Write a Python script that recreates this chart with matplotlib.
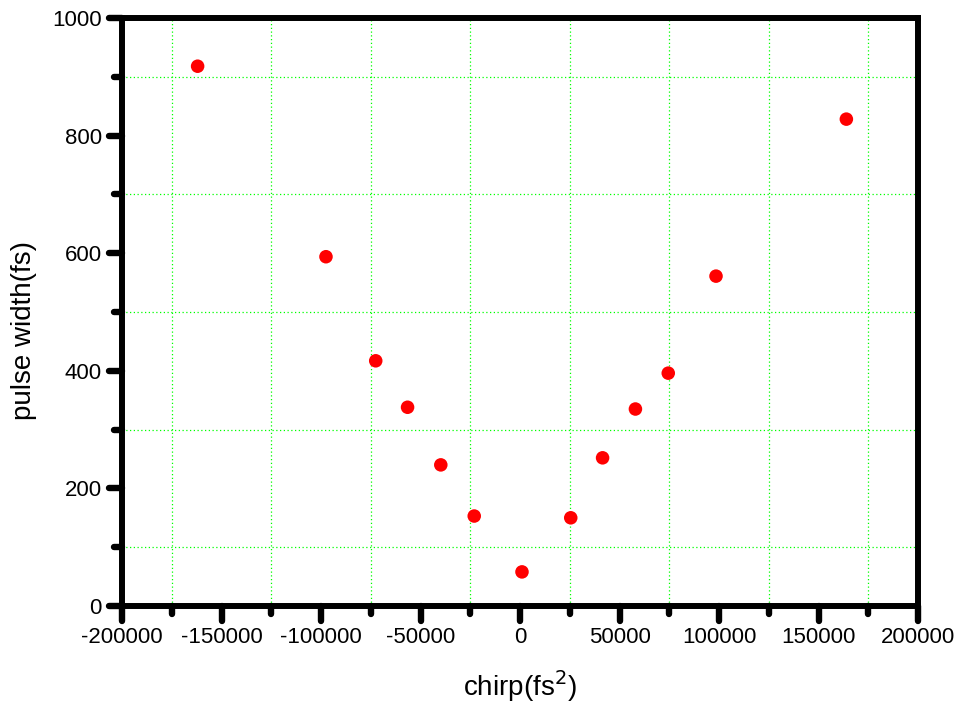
import matplotlib
matplotlib.use("Agg")
import matplotlib.pyplot as plt
from matplotlib.ticker import MultipleLocator
from matplotlib.markers import MarkerStyle, TICKDOWN, TICKLEFT

plt.rcParams['font.family'] = ['Liberation Sans', 'DejaVu Sans']

# Measured pulse width versus applied chirp
chirp = [-162000, -97500, -72500, -56500, -39800, -23000, 1000,
         25500, 41500, 58000, 74500, 98500, 164000]
pulse_width = [918, 594, 417, 338, 240, 153, 58,
               150, 252, 335, 396, 561, 828]

x_ticks = [-200000, -150000, -100000, -50000, 0, 50000, 100000, 150000, 200000]
y_ticks = [0, 200, 400, 600, 800, 1000]

fig = plt.figure(figsize=(9.65, 7.08), dpi=100)
ax = fig.add_axes([122 / 965, 1 - 606 / 708, 796 / 965, 588 / 708])

ax.scatter(chirp, pulse_width, s=95, color='#ff0000', edgecolors='none', zorder=3)

ax.set_xlim(-200000, 200000)
ax.set_ylim(0, 1000)
ax.set_xticks(x_ticks)
ax.set_yticks(y_ticks)
ax.set_xticklabels([str(v) for v in x_ticks])
ax.set_yticklabels([str(v) for v in y_ticks])
ax.xaxis.set_minor_locator(MultipleLocator(25000))
ax.yaxis.set_minor_locator(MultipleLocator(100))

# Grid only on the minor ticks
ax.grid(which='minor', color='#00ff00', linestyle=(0, (1, 2)), linewidth=0.9)
ax.grid(which='major', visible=False)

for sp in ax.spines.values():
    sp.set_linewidth(4.3)
    sp.set_capstyle('projecting')

ax.tick_params(which='major', direction='out', length=11, width=4.6,
               labelsize=16, pad=4, top=False, right=False)
ax.tick_params(axis='y', which='major', length=9.5, pad=5)
ax.tick_params(which='minor', direction='out', length=6, width=4.6,
               top=False, right=False)

# Rounded tick ends
for t in ax.xaxis.get_major_ticks() + ax.xaxis.get_minor_ticks():
    t.tick1line.set_marker(MarkerStyle(TICKDOWN, capstyle='round'))
for t in ax.yaxis.get_major_ticks() + ax.yaxis.get_minor_ticks():
    t.tick1line.set_marker(MarkerStyle(TICKLEFT, capstyle='round'))

ax.set_xlabel('chirp(fs$^2$)', fontsize=20)
ax.set_ylabel('pulse width(fs)', fontsize=20)
ax.xaxis.set_label_coords(0.5, (606 - 668) / 588)
ax.yaxis.set_label_coords((37 - 122) / 796, (606 - 330) / 588)

fig.savefig('out.png', dpi=100)
